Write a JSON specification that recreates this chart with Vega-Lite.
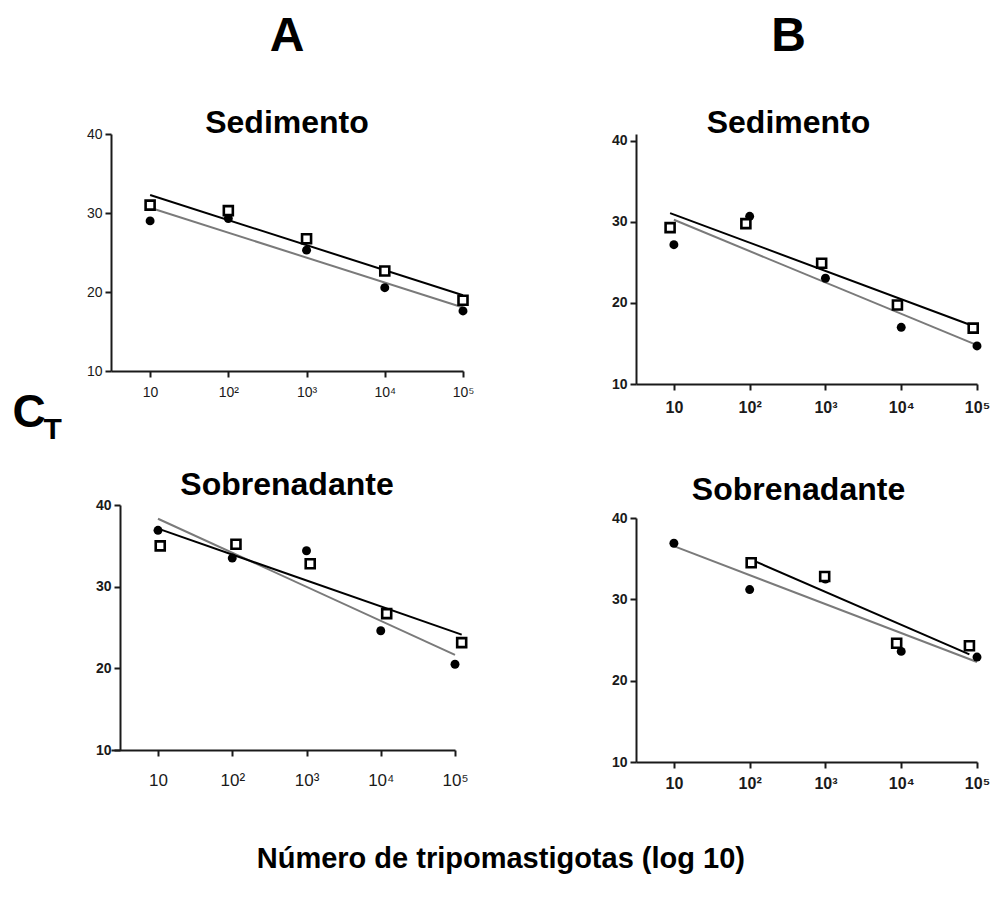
{
  "$schema": "https://vega.github.io/schema/vega-lite/v6.json",
  "padding": {"left": 12, "top": 12, "right": 5, "bottom": 10},
  "datasets": {
    "aSed": [
      {"logn": 1, "ct": 29.0, "group": "filled"},
      {"logn": 2, "ct": 29.3, "group": "filled"},
      {"logn": 3, "ct": 25.3, "group": "filled"},
      {"logn": 4, "ct": 20.55, "group": "filled"},
      {"logn": 5, "ct": 17.6, "group": "filled"},
      {"logn": 1, "ct": 31.0, "group": "open"},
      {"logn": 2, "ct": 30.3, "group": "open"},
      {"logn": 3, "ct": 26.75, "group": "open"},
      {"logn": 4, "ct": 22.66, "group": "open"},
      {"logn": 5, "ct": 18.95, "group": "open"}
    ],
    "bSed": [
      {"logn": 1, "ct": 27.2, "group": "filled"},
      {"logn": 2, "ct": 30.7, "group": "filled"},
      {"logn": 3, "ct": 23.05, "group": "filled"},
      {"logn": 4, "ct": 17.0, "group": "filled"},
      {"logn": 5, "ct": 14.7, "group": "filled"},
      {"logn": 0.95, "ct": 29.3, "group": "open"},
      {"logn": 1.95, "ct": 29.8, "group": "open"},
      {"logn": 2.95, "ct": 24.9, "group": "open"},
      {"logn": 3.95, "ct": 19.75, "group": "open"},
      {"logn": 4.95, "ct": 16.9, "group": "open"}
    ],
    "aSob": [
      {"logn": 1, "ct": 36.9, "group": "filled"},
      {"logn": 2, "ct": 33.5, "group": "filled"},
      {"logn": 3, "ct": 34.4, "group": "filled"},
      {"logn": 4, "ct": 24.6, "group": "filled"},
      {"logn": 5, "ct": 20.5, "group": "filled"},
      {"logn": 1.03, "ct": 35.0, "group": "open"},
      {"logn": 2.05, "ct": 35.2, "group": "open"},
      {"logn": 3.05, "ct": 32.8, "group": "open"},
      {"logn": 4.08, "ct": 26.7, "group": "open"},
      {"logn": 5.09, "ct": 23.15, "group": "open"}
    ],
    "bSob": [
      {"logn": 1, "ct": 36.9, "group": "filled"},
      {"logn": 2, "ct": 31.2, "group": "filled"},
      {"logn": 3, "ct": 32.5, "group": "filled"},
      {"logn": 4, "ct": 23.6, "group": "filled"},
      {"logn": 5, "ct": 22.9, "group": "filled"},
      {"logn": 2.02, "ct": 34.5, "group": "open"},
      {"logn": 2.99, "ct": 32.8, "group": "open"},
      {"logn": 3.94, "ct": 24.6, "group": "open"},
      {"logn": 4.9, "ct": 24.3, "group": "open"}
    ]
  },
  "title": {"text": "Número de tripomastigotas (log 10)", "orient": "bottom", "fontSize": 29, "fontWeight": "bold", "offset": 54, "anchor": "middle"},
  "spacing": 137,
  "hconcat": [
    {
      "spacing": 25,
      "vconcat": [
        {
          "width": 352, "height": 237,
          "title": {"text": "A", "subtitle": "Sedimento", "fontSize": 48, "fontWeight": "bold", "subtitleFontSize": 32, "subtitleFontWeight": "bold", "subtitlePadding": 47, "anchor": "middle", "frame": "group", "offset": -12},
          "data": {"name": "aSed"},
          "encoding": {
            "x": {"field": "logn", "type": "quantitative", "scale": {"domain": [0.5, 5], "nice": false, "zero": false},
                  "axis": {"values": [1, 2, 3, 4, 5], "labelExpr": "['','10','10²','10³','10⁴','10⁵'][datum.value]", "labelFontSize": 14, "labelFlush": false, "labelOverlap": false, "labelPadding": 8,
                           "title": "T", "titleFontSize": 30, "titleFontWeight": "bold", "titleColor": "#000", "titleAngle": 0, "titleAlign": "left", "titleBaseline": "alphabetic", "titleX": -68, "titleY": 67}},
            "y": {"field": "ct", "type": "quantitative", "scale": {"domain": [10, 40], "nice": false, "zero": false},
                  "axis": {"values": [10, 20, 30, 40], "labelFontSize": 14,
                           "title": "C", "titleFontSize": 46, "titleFontWeight": "bold", "titleColor": "#000", "titleAngle": 0, "titleAlign": "left", "titleBaseline": "alphabetic", "titleX": -99, "titleY": 292}}
          },
          "layer": [
            {"transform": [{"regression": "ct", "on": "logn", "groupby": ["group"]}],
             "mark": {"type": "line", "strokeWidth": 2},
             "encoding": {"color": {"field": "group", "type": "nominal", "scale": {"domain": ["filled", "open"], "range": ["#7a7a7a", "#000000"]}, "legend": null}}},
            {"transform": [{"filter": "datum.group === 'filled'"}], "mark": {"type": "circle", "size": 80, "color": "#000", "opacity": 1}},
            {"transform": [{"filter": "datum.group === 'open'"}], "mark": {"type": "square", "size": 81, "filled": true, "fill": "#fff", "stroke": "#000", "strokeWidth": 2.6, "opacity": 1}}
          ]
        },
        {
          "width": 344, "height": 245,
          "title": {"text": "Sobrenadante", "fontSize": 32, "fontWeight": "bold", "anchor": "middle", "frame": "group", "dx": 4, "offset": -4},
          "data": {"name": "aSob"},
          "encoding": {
            "x": {"field": "logn", "type": "quantitative", "scale": {"domain": [0.367, 5], "nice": false, "zero": false},
                  "axis": {"values": [1, 2, 3, 4, 5], "title": null, "labelExpr": "['','10','10²','10³','10⁴','10⁵'][datum.value]", "labelFontSize": 17, "labelFlush": false, "labelOverlap": false, "labelPadding": 16}},
            "y": {"field": "ct", "type": "quantitative", "scale": {"domain": [10, 40], "nice": false, "zero": false},
                  "axis": {"values": [10, 20, 30, 40], "title": null, "offset": -9, "labelFontSize": 14, "labelFontWeight": "bold"}}
          },
          "layer": [
            {"transform": [{"regression": "ct", "on": "logn", "groupby": ["group"]}],
             "mark": {"type": "line", "strokeWidth": 2},
             "encoding": {"color": {"field": "group", "type": "nominal", "scale": {"domain": ["filled", "open"], "range": ["#111111", "#000000"]}, "legend": null}}},
            {"transform": [{"filter": "datum.group === 'filled'"}], "mark": {"type": "circle", "size": 80, "color": "#000", "opacity": 1}},
            {"transform": [{"filter": "datum.group === 'open'"}], "mark": {"type": "square", "size": 81, "filled": true, "fill": "#fff", "stroke": "#000", "strokeWidth": 2.6, "opacity": 1}}
          ]
        }
      ]
    },
    {
      "spacing": 59,
      "vconcat": [
        {
          "width": 341, "height": 250,
          "title": {"text": "B", "subtitle": "Sedimento", "fontSize": 48, "fontWeight": "bold", "subtitleFontSize": 32, "subtitleFontWeight": "bold", "subtitlePadding": 47, "anchor": "middle", "frame": "group", "dx": -18, "offset": -5},
          "data": {"name": "bSed"},
          "encoding": {
            "x": {"field": "logn", "type": "quantitative", "scale": {"domain": [0.5, 5], "nice": false, "zero": false},
                  "axis": {"values": [1, 2, 3, 4, 5], "title": null, "labelExpr": "['','10','10²','10³','10⁴','10⁵'][datum.value]", "labelFontSize": 16, "labelFontWeight": "bold", "labelFlush": false, "labelOverlap": false, "labelPadding": 9}},
            "y": {"field": "ct", "type": "quantitative", "scale": {"domain": [10, 40.86], "nice": false, "zero": false},
                  "axis": {"values": [10, 20, 30, 40], "title": null, "labelFontSize": 14, "labelFontWeight": "bold"}}
          },
          "layer": [
            {"transform": [{"regression": "ct", "on": "logn", "groupby": ["group"]}],
             "mark": {"type": "line", "strokeWidth": 2},
             "encoding": {"color": {"field": "group", "type": "nominal", "scale": {"domain": ["filled", "open"], "range": ["#7a7a7a", "#000000"]}, "legend": null}}},
            {"transform": [{"filter": "datum.group === 'filled'"}], "mark": {"type": "circle", "size": 80, "color": "#000", "opacity": 1}},
            {"transform": [{"filter": "datum.group === 'open'"}], "mark": {"type": "square", "size": 81, "filled": true, "fill": "#fff", "stroke": "#000", "strokeWidth": 2.6, "opacity": 1}}
          ]
        },
        {
          "width": 341, "height": 244,
          "title": {"text": "Sobrenadante", "fontSize": 32, "fontWeight": "bold", "anchor": "middle", "frame": "group", "dx": -8, "offset": 4},
          "data": {"name": "bSob"},
          "encoding": {
            "x": {"field": "logn", "type": "quantitative", "scale": {"domain": [0.5, 5], "nice": false, "zero": false},
                  "axis": {"values": [1, 2, 3, 4, 5], "title": null, "labelExpr": "['','10','10²','10³','10⁴','10⁵'][datum.value]", "labelFontSize": 16, "labelFontWeight": "bold", "labelFlush": false, "labelOverlap": false, "labelPadding": 7}},
            "y": {"field": "ct", "type": "quantitative", "scale": {"domain": [10, 40], "nice": false, "zero": false},
                  "axis": {"values": [10, 20, 30, 40], "title": null, "labelFontSize": 14, "labelFontWeight": "bold"}}
          },
          "layer": [
            {"transform": [{"regression": "ct", "on": "logn", "groupby": ["group"]}],
             "mark": {"type": "line", "strokeWidth": 2},
             "encoding": {"color": {"field": "group", "type": "nominal", "scale": {"domain": ["filled", "open"], "range": ["#7a7a7a", "#000000"]}, "legend": null}}},
            {"transform": [{"filter": "datum.group === 'filled'"}], "mark": {"type": "circle", "size": 80, "color": "#000", "opacity": 1}},
            {"transform": [{"filter": "datum.group === 'open'"}], "mark": {"type": "square", "size": 81, "filled": true, "fill": "#fff", "stroke": "#000", "strokeWidth": 2.6, "opacity": 1}}
          ]
        }
      ]
    }
  ],
  "config": {
    "view": {"stroke": null},
    "font": "Liberation Sans",
    "axis": {"domainColor": "#1a1a1a", "domainWidth": 2, "tickColor": "#1a1a1a", "tickWidth": 2, "tickSize": 6, "labelColor": "#1a1a1a", "grid": false, "labelFont": "Liberation Sans", "titleFont": "Liberation Sans", "labelPadding": 3},
    "title": {"font": "Liberation Sans", "subtitleFont": "Liberation Sans", "color": "#000", "subtitleColor": "#000"}
  }
}
